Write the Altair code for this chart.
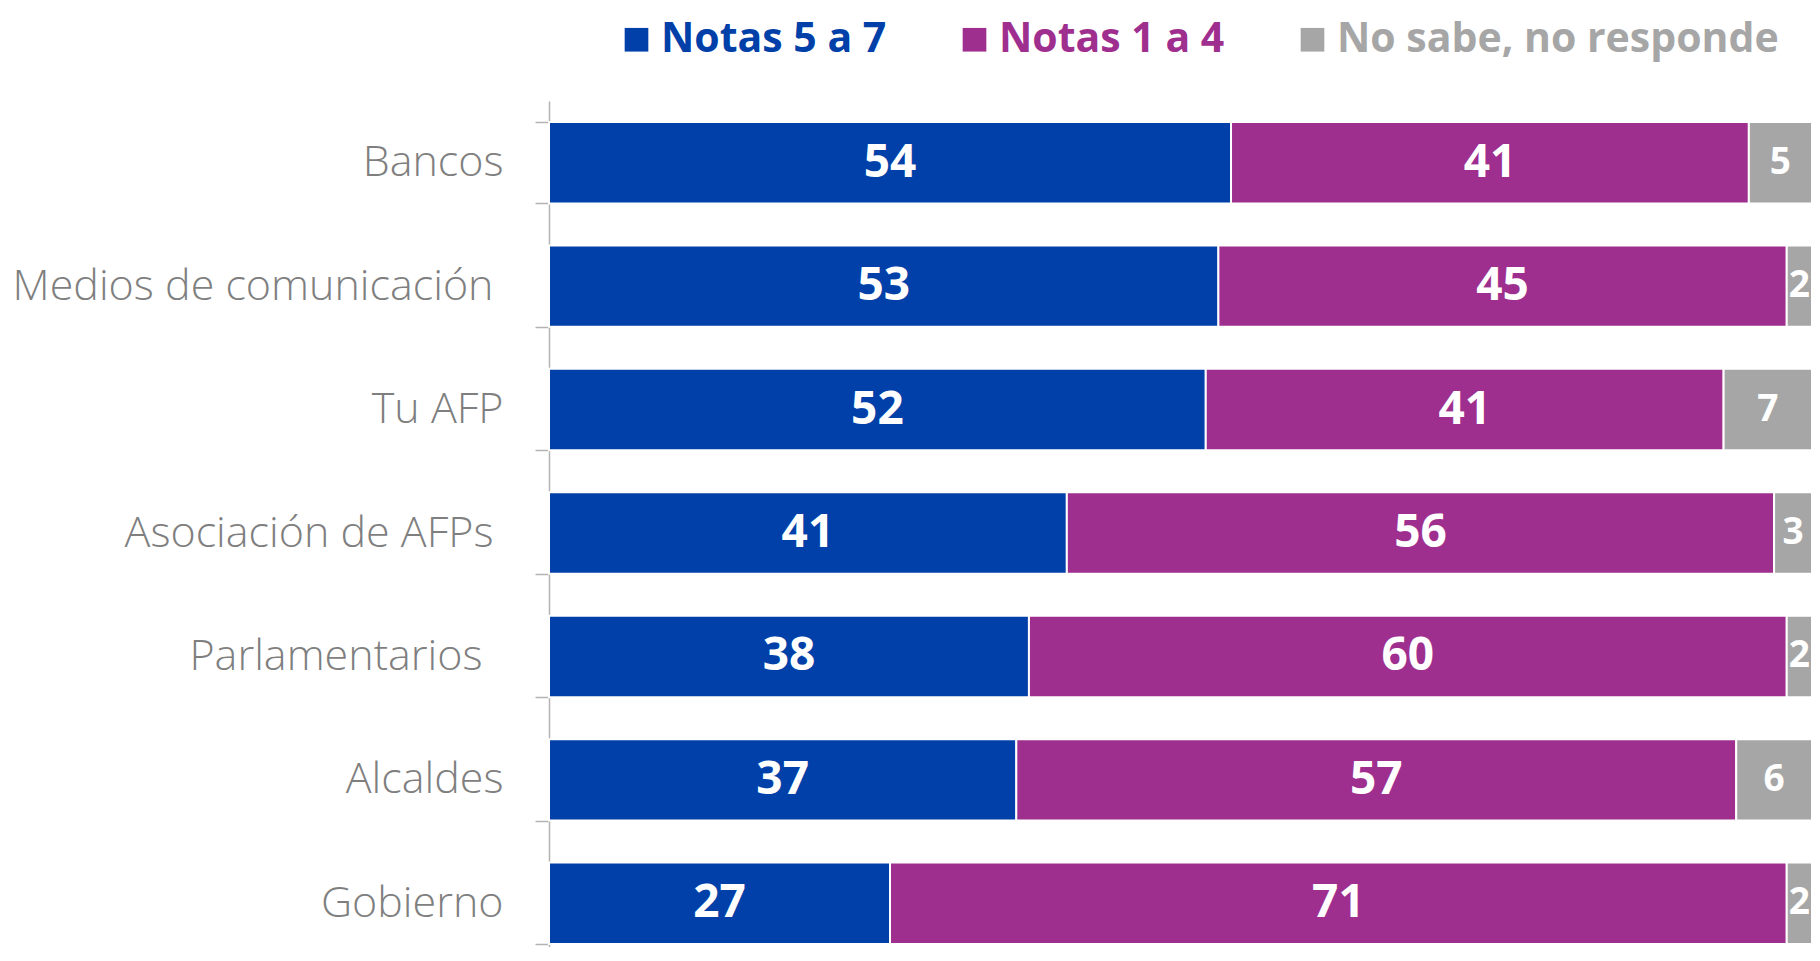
import altair as alt
import pandas as pd

categories = ["Bancos", "Medios de comunicación", "Tu AFP", "Asociación de AFPs",
              "Parlamentarios", "Alcaldes", "Gobierno"]
series = ["Notas 5 a 7", "Notas 1 a 4", "No sabe, no responde"]
notas_5_7 = [54, 53, 52, 41, 38, 37, 27]
notas_1_4 = [41, 45, 41, 56, 60, 57, 71]
no_sabe = [5, 2, 7, 3, 2, 6, 2]
colors = ["#0040A8", "#9F2F8F", "#A6A6A6"]

rows = []
for i, c in enumerate(categories):
    for j, vals in enumerate([notas_5_7, notas_1_4, no_sabe]):
        rows.append({"cat": c, "serie": series[j], "value": vals[i], "order": j})
df = pd.DataFrame(rows)

base = alt.Chart(df).transform_stack(
    stack="value", groupby=["cat"], as_=["x0", "x1"],
    sort=[alt.SortField("order", order="ascending")]
).transform_calculate(mid="(datum.x0 + datum.x1) / 2")

pad_expr = ("datum.value == 'Parlamentarios' ? 53 : "
            "(datum.value == 'Medios de comunicación' || datum.value == 'Asociación de AFPs') ? 42 : 32")

yscale = alt.Scale(paddingInner=0.34, paddingOuter=0.17, range=[0, 864])
yenc = alt.Y(
    "cat:N", sort=categories, title=None, scale=yscale,
    axis=alt.Axis(
        labelFont="Open Sans", labelFontSize=43, labelFontWeight=300, labelColor="#7F7F7F",
        labelPadding={"expr": pad_expr}, tickSize=14, tickBand="extent", tickColor="#B3B3B3",
        domainColor="#B3B3B3", domainWidth=1.5, tickWidth=1.5,
        minExtent=541, maxExtent=541, labelLimit=600,
    ),
)
xscale = alt.Scale(domain=[0, 100], nice=False)

bars = base.mark_bar(stroke="white", strokeWidth=2).encode(
    y=yenc,
    x=alt.X("x0:Q", scale=xscale, axis=None),
    x2="x1:Q",
    color=alt.Color(
        "serie:N", scale=alt.Scale(domain=series, range=colors),
        legend=alt.Legend(
            title=None, orient="none", direction="horizontal", legendX=67, legendY=-82,
            symbolType="square", symbolSize=560, symbolStrokeWidth=0, symbolOpacity=1,
            labelFont="Open Sans", labelFontSize=41, labelFontWeight="bold",
            labelOffset=4, columnPadding=67, padding=0, labelLimit=800,
            labelColor={"expr": "scale('color', datum.value)"},
        ),
    ),
    order=alt.Order("order:Q"),
)

labels = base.mark_text(
    color="white", font="Open Sans", fontWeight="bold", align="center", baseline="middle"
).encode(
    y=alt.Y("cat:N", sort=categories, scale=yscale),
    x=alt.X("mid:Q", scale=xscale),
    text="value:Q",
    size=alt.condition("datum.serie == 'No sabe, no responde'", alt.value(37), alt.value(46)),
)

chart = alt.layer(bars, labels).properties(
    width=1263, height=846,
    autosize=alt.AutoSizeParams(type="none"),
    padding={"left": 541, "top": 93, "right": 0, "bottom": 0},
).configure_view(stroke=None)

chart.save("out.html", embed_options={"renderer": "svg", "actions": False})
